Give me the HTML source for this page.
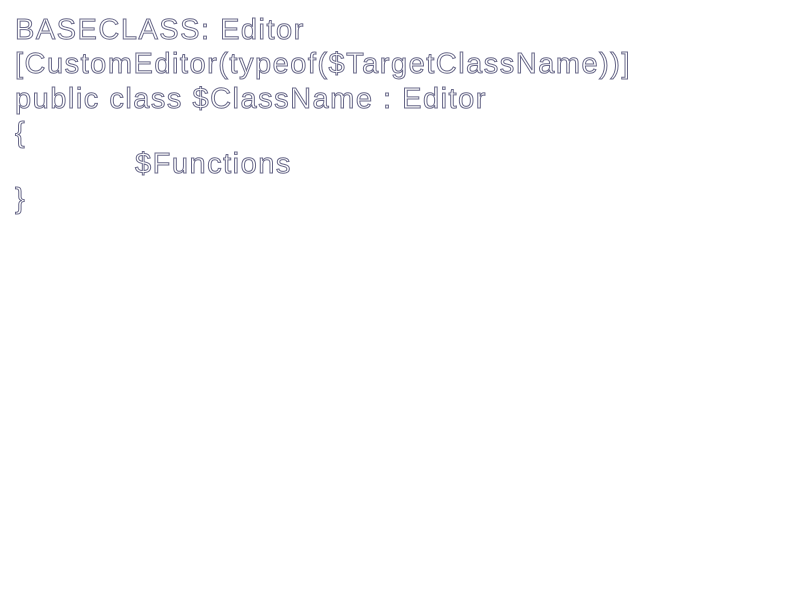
<!DOCTYPE html>
<html><head><style>
html,body{margin:0;padding:0;background:#fff;width:800px;height:600px;overflow:hidden}
.t{position:absolute;left:15px;font-family:"Liberation Sans",Arial,sans-serif;font-size:29px;color:#fff;-webkit-text-stroke:1px #6a6a8a;white-space:pre;line-height:34px;letter-spacing:1.5px}
</style></head><body>
<div class="t" style="top:13px">BASECLASS: Editor</div>
<div class="t" style="top:47px">[CustomEditor(typeof($TargetClassName))]</div>
<div class="t" style="top:82px">public class $ClassName : Editor</div>
<div class="t" style="top:116px">{</div>
<div class="t" style="top:147px;left:135px">$Functions</div>
<div class="t" style="top:182px">}</div>
</body></html>
